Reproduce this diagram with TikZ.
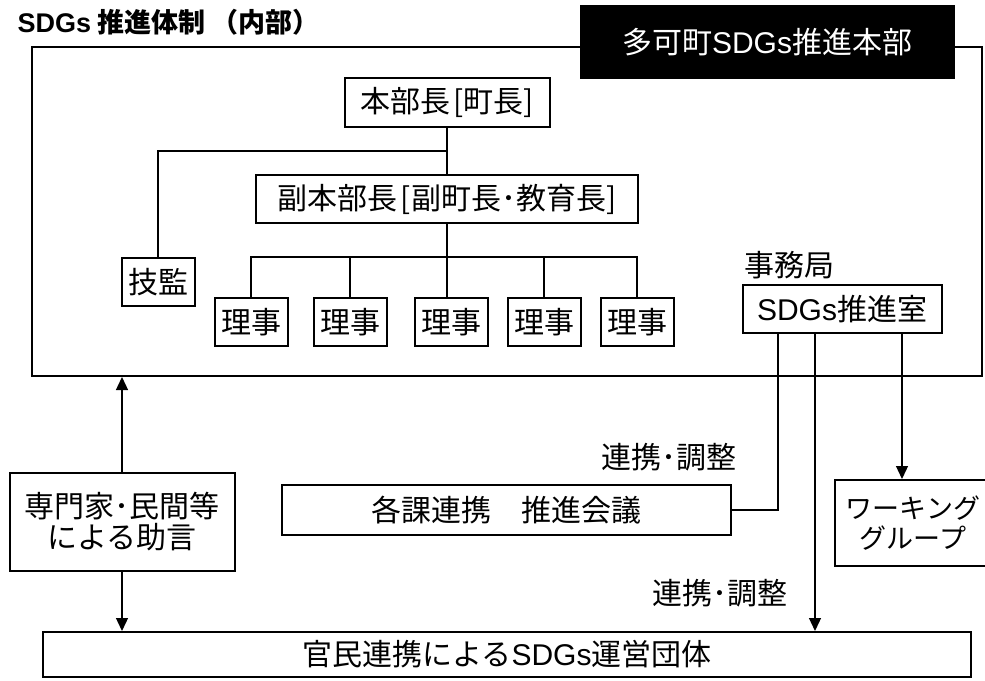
\documentclass[tikz,border=0pt]{standalone}
\usepackage{fontspec}
\setmainfont{Noto Sans CJK JP}
\newfontfamily\latn{Liberation Sans}
\newcommand{\sdgs}{{\latn SDGs}}
\usetikzlibrary{arrows.meta}

\begin{document}
\begin{tikzpicture}[x=1pt,y=-1pt,font=\fontsize{30}{31}\selectfont,
	box/.style={draw,line width=2pt,inner sep=0pt,align=center},
	link/.style={line width=1.3pt},
	arr/.style={line width=1.3pt,-{Triangle[length=13pt,width=12pt]}}]
	\useasboundingbox (0,0) rectangle (985,680);

	%title
	\node[anchor=west,font=\fontsize{27}{28}\selectfont\bfseries] (title) at (14,22) {\sdgs{} 推進体制 （内部）};

	%frame of the inner part
	\node[box,minimum width=950,minimum height=329] (naibu) at (507,211.5) {};
	\node[fill=black,text=white,inner sep=0pt,minimum width=375,minimum height=74] (honbu) at (767,42) {多可町\sdgs 推進本部}; %black header

	%heads
	\node[box,minimum width=205,minimum height=49] (chief) at (447,102) {本部長\hspace{3pt}[町長]};
	\node[box,minimum width=382,minimum height=48] (vice) at (447,199) {副本部長\hspace{3pt}[副町長･教育長]};
	\node[box,minimum width=73,minimum height=48] (gikan) at (158,282) {技監};

	%directors
	\node[box,minimum width=73,minimum height=48] (riji1) at (251,322) {理事};
	\node[box,minimum width=73,minimum height=48] (riji2) at (350,322) {理事};
	\node[box,minimum width=73,minimum height=48] (riji3) at (451,322) {理事};
	\node[box,minimum width=73,minimum height=48] (riji4) at (544,322) {理事};
	\node[box,minimum width=73,minimum height=48] (riji5) at (637,322) {理事};

	%secretariat
	\node[anchor=west,inner sep=0pt] (jimu) at (744,265) {事務局};
	\node[box,minimum width=199,minimum height=48] (office) at (842,309) {\sdgs 推進室};

	%outside the frame
	\node[box,minimum width=449,minimum height=50] (kaigi) at (506,510) {各課連携　推進会議};
	\node[box,minimum width=156,minimum height=86,font=\fontsize{27}{30}\selectfont] (wg) at (913,523) {ワーキング\\グループ};
	\node[box,minimum width=225,minimum height=98] (expert) at (122,522) {専門家･民間等\\による助言};
	\node[box,minimum width=928,minimum height=45] (dantai) at (507,654.5) {官民連携による\sdgs 運営団体};

	%labels
	\node[inner sep=0pt] (renkei1) at (669,457) {連携･調整};
	\node[inner sep=0pt] (renkei2) at (720,593) {連携･調整};

	%tree lines
	\coordinate (branch) at (447,151);
	\coordinate (bar) at (447,257);
	\draw[link] (chief.south) -- (vice.north);
	\draw[link] (branch) -| (gikan.north);
	\draw[link] (vice.south) -- (vice.south |- riji3.north);
	\draw[link] (riji1.north) |- (bar) -| (riji5.north);
	\draw[link] (riji2.north) -- (riji2.north |- bar);
	\draw[link] (riji4.north) -- (riji4.north |- bar);

	%from the office
	\draw[link] ([xshift=-64]office.south) |- (kaigi.east);
	\draw[arr] ([xshift=-27]office.south) -- ([xshift=-27]office.south |- dantai.north);
	\draw[arr] ([xshift=60]office.south) -- ([xshift=60]office.south |- wg.north);

	%advice
	\draw[arr] (expert.north) -- (expert.north |- naibu.south);
	\draw[arr] (expert.south) -- (expert.south |- dantai.north);

\end{tikzpicture}
\end{document}
